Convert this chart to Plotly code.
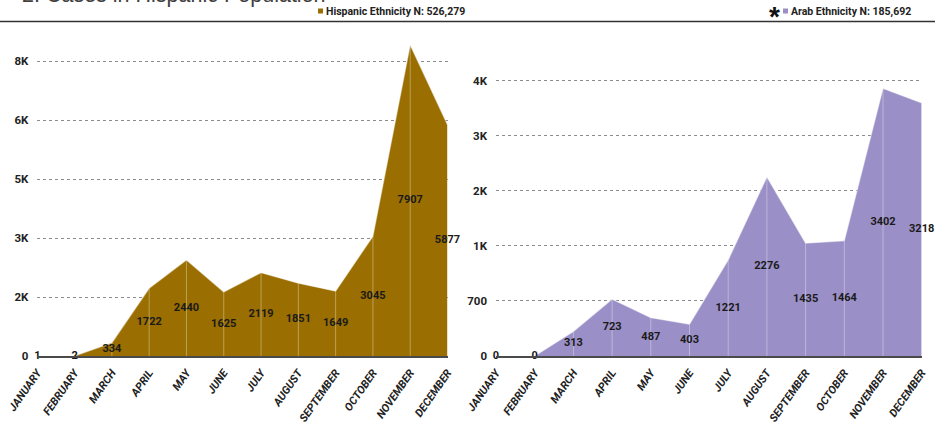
import plotly.graph_objects as go

months = ["JANUARY", "FEBRUARY", "MARCH", "APRIL", "MAY", "JUNE", "JULY",
          "AUGUST", "SEPTEMBER", "OCTOBER", "NOVEMBER", "DECEMBER"]
hispanic = [1, 2, 334, 1722, 2440, 1625, 2119, 1851, 1649, 3045, 7907, 5877]
arab = [0, 0, 313, 723, 487, 403, 1221, 2276, 1435, 1464, 3402, 3218]

hisp_tickvals = [0, 1500, 3000, 4500, 6000, 7500]
hisp_ticktext = ["0", "2K", "3K", "5K", "6K", "8K"]
arab_tickvals = [0, 700, 1400, 2100, 2800, 3500]
arab_ticktext = ["0", "700", "1K", "2K", "3K", "4K"]

title_text = "2. Cases in Hispanic Population"
hisp_legend = "Hispanic Ethnicity N: 526,279"
arab_legend = "Arab Ethnicity N: 185,692"

HISP_COLOR = "#9a6e00"
ARAB_COLOR = "#9a8fc6"
NARROW = "Noto Sans Condensed, Liberation Sans Narrow, Arial Narrow, Roboto, sans-serif"

W, H = 935, 428
T, B = 34, 72
PH = H - T - B  # plot height in px


def py(ypix):
    """pixel (from top) -> paper y"""
    return (H - B - ypix) / PH


def px(xpix):
    return xpix / W


fig = go.Figure()


def add_series(values, color, xa, ya):
    fig.add_trace(go.Scatter(
        x=months, y=values, mode="lines", fill="tozeroy",
        fillcolor=color, line=dict(color="rgba(255,255,255,0.45)", width=1.3),
        xaxis=xa, yaxis=ya, showlegend=False, hoverinfo="skip"))
    dx, dy = [], []
    for m, v in zip(months, values):
        dx += [m, m, None]
        dy += [0, v, None]
    fig.add_trace(go.Scatter(
        x=dx, y=dy, mode="lines",
        line=dict(color="rgba(255,255,255,0.35)", width=1),
        xaxis=xa, yaxis=ya, showlegend=False, hoverinfo="skip"))
    fig.add_trace(go.Scatter(
        x=months, y=[v / 2 for v in values], mode="text",
        text=[str(v) for v in values], textposition="middle center",
        textfont=dict(family=NARROW, size=11, color="#1a1a1a", weight="bold"),
        xaxis=xa, yaxis=ya, showlegend=False, cliponaxis=False, hoverinfo="skip"))


add_series(hispanic, HISP_COLOR, "x", "y")
add_series(arab, ARAB_COLOR, "x2", "y2")

xcommon = dict(
    type="category", range=[0, 11], showgrid=False, zeroline=False,
    showline=True, linecolor="#4a4a4a", linewidth=2, tickangle=-55,
    ticks="", ticklabelstandoff=4, automargin=False,
    tickfont=dict(family=NARROW, size=11, color="#222", weight="bold", style="italic"),
)
ycommon = dict(
    showgrid=True, gridcolor="#8c8c8c", griddash="dot", gridwidth=1,
    zeroline=False, showline=False, ticks="", ticklabelstandoff=8, automargin=False,
    tickfont=dict(family=NARROW, size=11.5, color="#222", weight="bold"),
)

fig.update_layout(
    width=W, height=H,
    margin=dict(l=0, r=0, t=T, b=B, autoexpand=False),
    paper_bgcolor="white", plot_bgcolor="white",
    xaxis=dict(domain=[px(37.3), px(447.5)], anchor="y", **xcommon),
    yaxis=dict(domain=[0, 1], anchor="x", range=[0, PH / (295 / 7500)],
               tickvals=hisp_tickvals, ticktext=hisp_ticktext, **ycommon),
    xaxis2=dict(domain=[px(496), px(921.7)], anchor="y2", **xcommon),
    yaxis2=dict(domain=[0, 1], anchor="x2", range=[0, PH / (275.3 / 3500)],
                tickvals=arab_tickvals, ticktext=arab_ticktext, **ycommon),
    showlegend=False,
)

# title (cut off at top, as in the source) and rule
fig.add_annotation(text=title_text, xref="paper", yref="paper",
                   x=px(20), y=py(9), xanchor="left", yanchor="bottom",
                   showarrow=False, font=dict(family="Liberation Sans, Arial, sans-serif",
                                              size=21.5, color="#404040"))
fig.add_shape(type="line", xref="paper", yref="paper", x0=0, x1=1,
              y0=py(21.5), y1=py(21.5), line=dict(color="#333", width=1.5))

# legend keys
fig.add_shape(type="rect", xref="paper", yref="paper",
              x0=px(318), x1=px(323), y0=py(13.5), y1=py(8.5),
              fillcolor=HISP_COLOR, line=dict(width=0))
fig.add_annotation(text=hisp_legend, xref="paper", yref="paper",
                   x=px(324), y=py(11), xanchor="left", yanchor="middle",
                   showarrow=False,
                   font=dict(family=NARROW, size=10.5, color="#222", weight="bold"))
fig.add_shape(type="rect", xref="paper", yref="paper",
              x0=px(783), x1=px(788), y0=py(13.5), y1=py(8.5),
              fillcolor=ARAB_COLOR, line=dict(width=0))
fig.add_annotation(text=arab_legend, xref="paper", yref="paper",
                   x=px(789), y=py(11), xanchor="left", yanchor="middle",
                   showarrow=False,
                   font=dict(family=NARROW, size=10.5, color="#222", weight="bold"))
fig.add_annotation(text="*", xref="paper", yref="paper",
                   x=px(774), y=py(16), xanchor="center", yanchor="middle",
                   showarrow=False,
                   font=dict(family="Liberation Sans, Arial, sans-serif", size=28,
                             color="#111", weight="bold"))

fig.write_html("out.html")
